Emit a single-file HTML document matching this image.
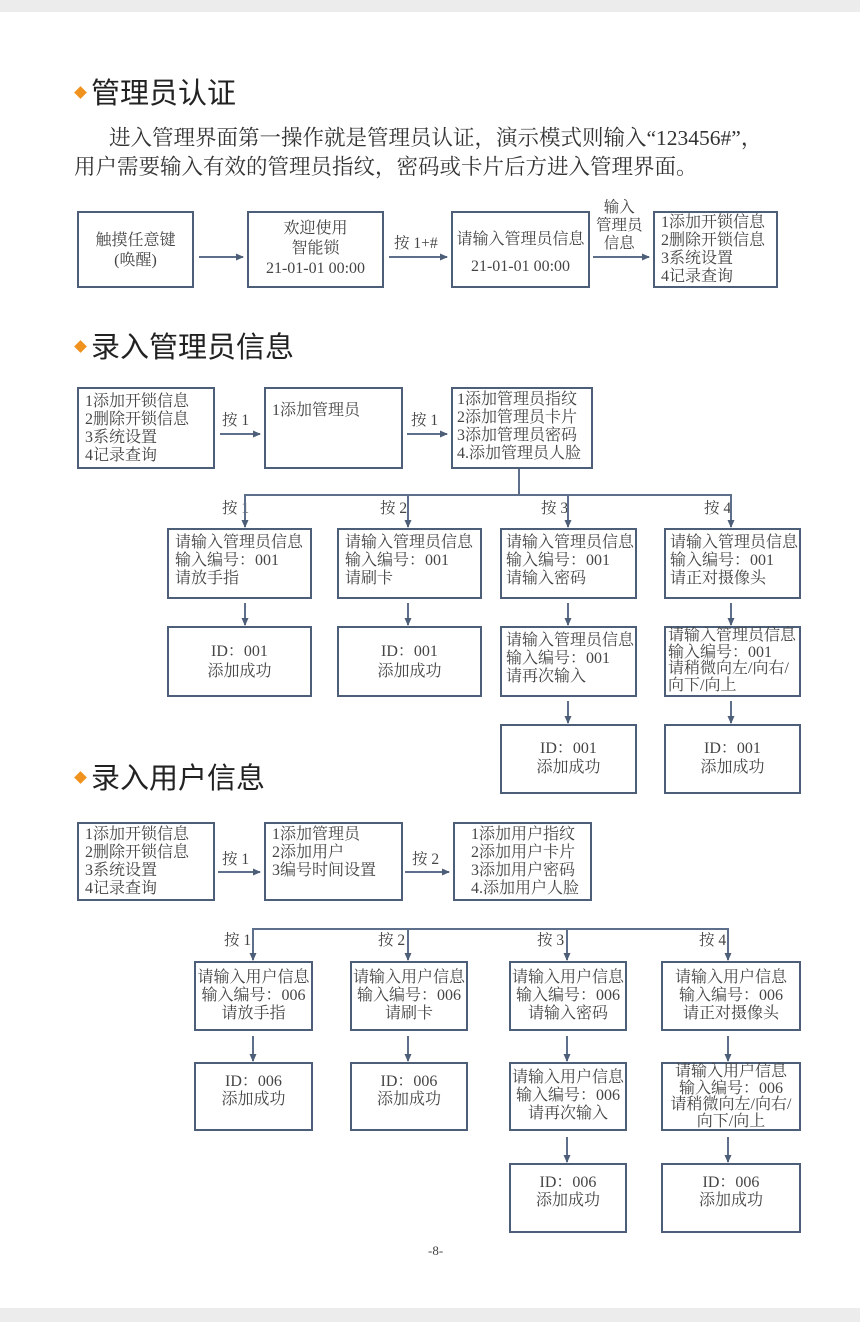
<!DOCTYPE html>
<html><head><meta charset="utf-8"><style>
html,body{margin:0;padding:0;}
body{width:860px;height:1322px;position:relative;background:#fff;overflow:hidden;font-family:"Liberation Serif","Noto Serif CJK SC",serif;color:#444;}
.band{position:absolute;left:0;width:860px;background:#ececec;}
.h{position:absolute;font-family:"Liberation Sans","Noto Sans CJK SC",sans-serif;font-size:29px;color:#222;line-height:32px;}
.h i{display:inline-block;width:9px;height:9px;background:#f0921e;transform:rotate(45deg);margin:0 6px 6px 2px;vertical-align:middle;}
.p{position:absolute;font-size:21.5px;color:#333;line-height:29px;white-space:nowrap;}
.b{position:absolute;box-sizing:border-box;border:2px solid #4d5e78;font-size:16px;line-height:18px;color:#444;white-space:nowrap;}
.l{padding:4px 0 0 6px;text-align:left;}
.c{text-align:center;padding-top:6px;}
.t{position:absolute;font-size:15.5px;color:#444;white-space:nowrap;line-height:18px;}
svg{position:absolute;left:0;top:0;}
</style></head><body>
<div class="band" style="top:0;height:12px"></div>
<div class="band" style="top:1308px;height:14px"></div>

<div class="h" style="left:74px;top:78px"><i></i>管理员认证</div>
<div class="p" style="left:109px;top:124px">进入管理界面第一操作就是管理员认证，演示模式则输入“123456#”，</div>
<div class="p" style="left:74px;top:153px">用户需要输入有效的管理员指纹，密码或卡片后方进入管理界面。</div>

<div class="b c" style="left:77px;top:211px;width:117px;height:77px;padding-top:18px;line-height:20px">触摸任意键<br>(唤醒)</div>
<div class="b c" style="left:247px;top:211px;width:137px;height:77px;padding-top:6px;line-height:20px">欢迎使用<br>智能锁<br>21-01-01 00:00</div>
<div class="b c" style="left:451px;top:211px;width:139px;height:77px;padding-top:13px;line-height:27px">请输入管理员信息<br>21-01-01 00:00</div>
<div class="b l" style="left:653px;top:211px;width:125px;height:77px;padding-top:1px">1添加开锁信息<br>2删除开锁信息<br>3系统设置<br>4记录查询</div>
<div class="t" style="left:394px;top:235px">按 1+#</div>
<div class="t" style="left:596px;top:199px;text-align:center;line-height:18px">输入<br>管理员<br>信息</div>

<div class="h" style="left:74px;top:332px"><i></i>录入管理员信息</div>
<div class="b l" style="left:77px;top:387px;width:138px;height:82px">1添加开锁信息<br>2删除开锁信息<br>3系统设置<br>4记录查询</div>
<div class="b l" style="left:264px;top:387px;width:139px;height:82px;padding-top:13px">1添加管理员</div>
<div class="b l" style="left:451px;top:387px;width:142px;height:82px;padding:2px 0 0 4px">1添加管理员指纹<br>2添加管理员卡片<br>3添加管理员密码<br>4.添加管理员人脸</div>
<div class="t" style="left:222px;top:412px">按 1</div>
<div class="t" style="left:411px;top:412px">按 1</div>
<div class="t" style="left:222px;top:500px">按 1</div>
<div class="t" style="left:380px;top:500px">按 2</div>
<div class="t" style="left:541px;top:500px">按 3</div>
<div class="t" style="left:704px;top:500px">按 4</div>

<div class="b l" style="left:167px;top:528px;width:145px;height:71px">请输入管理员信息<br>输入编号：001<br>请放手指</div>
<div class="b l" style="left:337px;top:528px;width:145px;height:71px">请输入管理员信息<br>输入编号：001<br>请刷卡</div>
<div class="b l" style="left:500px;top:528px;width:137px;height:71px;padding-left:4px">请输入管理员信息<br>输入编号：001<br>请输入密码</div>
<div class="b l" style="left:664px;top:528px;width:137px;height:71px;padding-left:4px">请输入管理员信息<br>输入编号：001<br>请正对摄像头</div>
<div class="b c" style="left:167px;top:626px;width:145px;height:71px;padding-top:14px;line-height:20px">ID：001<br>添加成功</div>
<div class="b c" style="left:337px;top:626px;width:145px;height:71px;padding-top:14px;line-height:20px">ID：001<br>添加成功</div>
<div class="b l" style="left:500px;top:626px;width:137px;height:71px;padding-left:4px">请输入管理员信息<br>输入编号：001<br>请再次输入</div>
<div class="b l" style="left:664px;top:626px;width:137px;height:71px;padding:0 0 0 2px;line-height:16.5px">请输入管理员信息<br>输入编号：001<br>请稍微向左/向右/<br>向下/向上</div>
<div class="b c" style="left:500px;top:724px;width:137px;height:70px;padding-top:13px;line-height:19px">ID：001<br>添加成功</div>
<div class="b c" style="left:664px;top:724px;width:137px;height:70px;padding-top:13px;line-height:19px">ID：001<br>添加成功</div>

<div class="h" style="left:74px;top:763px"><i></i>录入用户信息</div>
<div class="b l" style="left:77px;top:822px;width:138px;height:79px;padding-top:2px">1添加开锁信息<br>2删除开锁信息<br>3系统设置<br>4记录查询</div>
<div class="b l" style="left:264px;top:822px;width:139px;height:79px;padding-top:2px">1添加管理员<br>2添加用户<br>3编号时间设置</div>
<div class="b l" style="left:453px;top:822px;width:139px;height:79px;padding:2px 0 0 16px">1添加用户指纹<br>2添加用户卡片<br>3添加用户密码<br>4.添加用户人脸</div>
<div class="t" style="left:222px;top:851px">按 1</div>
<div class="t" style="left:412px;top:851px">按 2</div>
<div class="t" style="left:224px;top:932px">按 1</div>
<div class="t" style="left:378px;top:932px">按 2</div>
<div class="t" style="left:537px;top:932px">按 3</div>
<div class="t" style="left:699px;top:932px">按 4</div>

<div class="b c" style="left:194px;top:961px;width:119px;height:70px;padding-top:6px">请输入用户信息<br>输入编号：006<br>请放手指</div>
<div class="b c" style="left:350px;top:961px;width:118px;height:70px;padding-top:6px">请输入用户信息<br>输入编号：006<br>请刷卡</div>
<div class="b c" style="left:509px;top:961px;width:118px;height:70px;padding-top:6px">请输入用户信息<br>输入编号：006<br>请输入密码</div>
<div class="b c" style="left:661px;top:961px;width:140px;height:70px;padding-top:6px">请输入用户信息<br>输入编号：006<br>请正对摄像头</div>
<div class="b c" style="left:194px;top:1062px;width:119px;height:69px;padding-top:9px">ID：006<br>添加成功</div>
<div class="b c" style="left:350px;top:1062px;width:118px;height:69px;padding-top:9px">ID：006<br>添加成功</div>
<div class="b c" style="left:509px;top:1062px;width:118px;height:69px;padding-top:5px">请输入用户信息<br>输入编号：006<br>请再次输入</div>
<div class="b c" style="left:661px;top:1062px;width:140px;height:69px;padding-top:0;line-height:16.5px">请输入用户信息<br>输入编号：006<br>请稍微向左/向右/<br>向下/向上</div>
<div class="b c" style="left:509px;top:1163px;width:118px;height:70px;padding-top:9px">ID：006<br>添加成功</div>
<div class="b c" style="left:661px;top:1163px;width:140px;height:70px;padding-top:9px">ID：006<br>添加成功</div>

<div class="t" style="left:428px;top:1242px;font-size:13px">-8-</div>

<svg width="860" height="1322">
<defs><marker id="a" markerWidth="8" markerHeight="8" refX="7" refY="4" orient="auto" markerUnits="userSpaceOnUse"><path d="M0,0.5 L8,4 L0,7.5 Z" fill="#4d5e78"/></marker></defs>
<g stroke="#5d6f8a" stroke-width="2" fill="none" marker-end="url(#a)">
<line x1="199" y1="257" x2="243" y2="257"/>
<line x1="389" y1="257" x2="447" y2="257"/>
<line x1="593" y1="257" x2="649" y2="257"/>
<line x1="220" y1="434" x2="260" y2="434"/>
<line x1="407" y1="434" x2="447" y2="434"/>
<line x1="245" y1="495" x2="245" y2="527"/>
<line x1="408" y1="495" x2="408" y2="527"/>
<line x1="568" y1="495" x2="568" y2="527"/>
<line x1="731" y1="495" x2="731" y2="527"/>
<line x1="245" y1="603" x2="245" y2="625"/>
<line x1="408" y1="603" x2="408" y2="625"/>
<line x1="568" y1="603" x2="568" y2="625"/>
<line x1="731" y1="603" x2="731" y2="625"/>
<line x1="568" y1="701" x2="568" y2="723"/>
<line x1="731" y1="701" x2="731" y2="723"/>
<line x1="218" y1="872" x2="260" y2="872"/>
<line x1="405" y1="872" x2="449" y2="872"/>
<line x1="253" y1="929" x2="253" y2="960"/>
<line x1="408" y1="929" x2="408" y2="960"/>
<line x1="567" y1="929" x2="567" y2="960"/>
<line x1="728" y1="929" x2="728" y2="960"/>
<line x1="253" y1="1036" x2="253" y2="1061"/>
<line x1="408" y1="1036" x2="408" y2="1061"/>
<line x1="567" y1="1036" x2="567" y2="1061"/>
<line x1="728" y1="1036" x2="728" y2="1061"/>
<line x1="567" y1="1137" x2="567" y2="1162"/>
<line x1="728" y1="1137" x2="728" y2="1162"/>
</g>
<g stroke="#5d6f8a" stroke-width="2" fill="none">
<line x1="519" y1="469" x2="519" y2="495"/>
<line x1="244" y1="495" x2="732" y2="495"/>
<line x1="252" y1="929" x2="729" y2="929"/>
</g>
</svg>
</body></html>
